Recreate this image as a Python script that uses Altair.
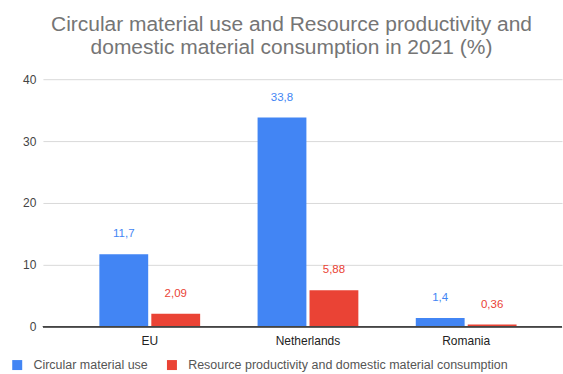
import altair as alt
import pandas as pd

countries = ["EU", "Netherlands", "Romania"]
series = ["Circular material use", "Resource productivity and domestic material consumption"]
circular = [11.7, 33.8, 1.4]
resource = [2.09, 5.88, 0.36]
circular_labels = ["11,7", "33,8", "1,4"]
resource_labels = ["2,09", "5,88", "0,36"]

rows = []
for i, c in enumerate(countries):
    rows.append({"country": c, "series": series[0], "value": circular[i], "label": circular_labels[i]})
    rows.append({"country": c, "series": series[1], "value": resource[i], "label": resource_labels[i]})
df = pd.DataFrame(rows)

colors = ["#4285F4", "#EA4335"]
color_scale = alt.Scale(domain=series, range=colors)

x_scale = alt.Scale(paddingInner=0.363, paddingOuter=0.322, align=0.554)
x = alt.X("country:N", sort=countries, title=None, scale=x_scale,
          axis=alt.Axis(labelAngle=0, ticks=False, domain=False, labelPadding=9,
                        labelFontSize=12, labelColor="#222", labelFont="Liberation Sans"))
xo = alt.XOffset("series:N", sort=series, scale=alt.Scale(paddingInner=0.06))
y = alt.Y("value:Q", title=None,
          scale=alt.Scale(domain=[0, 40], nice=False),
          axis=alt.Axis(values=[0, 10, 20, 30, 40], ticks=False, domain=False,
                        labelFontSize=12, labelColor="#444", labelPadding=7,
                        labelFont="Liberation Sans", gridColor="#d9d9d9"))

bars = alt.Chart(df).mark_bar().encode(
    x=x, xOffset=xo, y=y,
    color=alt.Color("series:N", scale=color_scale, sort=series, title=None,
                    legend=alt.Legend(orient="none", legendX=-32, legendY=280,
                                      direction="horizontal", symbolType="square",
                                      symbolSize=100, symbolStrokeWidth=0,
                                      labelFontSize=12.5, labelColor="#555",
                                      labelFont="Liberation Sans", columnPadding=17,
                                      labelOffset=10, labelLimit=0)),
)

text = alt.Chart(df).mark_text(dy=-20, fontSize=11.5, font="Liberation Sans").encode(
    x=alt.X("country:N", sort=countries, scale=x_scale),
    xOffset=alt.XOffset("series:N", sort=series),
    y="value:Q", text="label:N",
    color=alt.Color("series:N", scale=color_scale, legend=None),
)

base = alt.Chart(df).mark_rule(color="#444", strokeWidth=1.2).encode(y=alt.datum(0))

chart = alt.layer(bars, text, base).properties(
    width=520, height=248,
    title=alt.TitleParams(
        ["Circular material use and Resource productivity and",
         "domestic material consumption in 2021 (%)"],
        fontSize=21, fontWeight="normal", color="#757575", font="Liberation Sans",
        anchor="middle", offset=15, lineHeight=23, dx=-11),
    padding={"left": 11, "top": 14, "right": 0, "bottom": 0},
).configure_view(stroke=None)

chart.save("out.html", embed_options={"renderer": "svg", "actions": False})
